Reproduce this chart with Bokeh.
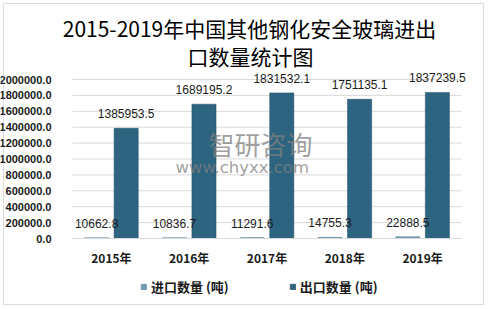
from bokeh.plotting import figure
from bokeh.models import (ColumnDataSource, Range1d, LabelSet, Label, BoxAnnotation,
                          Legend, LegendItem, NumeralTickFormatter, FixedTicker)
from bokeh.transform import dodge
from bokeh.core.properties import value
from bokeh.embed import file_html
from bokeh.resources import INLINE

years = ["2015年", "2016年", "2017年", "2018年", "2019年"]
imports = [10662.8, 10836.7, 11291.6, 14755.3, 22888.5]
exports = [1385953.5, 1689195.2, 1831532.1, 1751135.1, 1837239.5]
y_ticks = [0, 200000, 400000, 600000, 800000, 1000000, 1200000, 1400000, 1600000, 1800000, 2000000]
title_line1 = "2015-2019年中国其他钢化安全玻璃进出"
title_line2 = "口数量统计图"
series_names = ["进口数量 (吨)", "出口数量 (吨)"]

xi = list(range(len(years)))
src = ColumnDataSource(dict(
    xi=xi, imports=imports, exports=exports,
    imp_lbl=["%.1f" % v for v in imports],
    exp_lbl=["%.1f" % v for v in exports],
))
grid_src = ColumnDataSource(dict(y=y_ticks, x0=[-0.5] * len(y_ticks), x1=[len(years) - 0.5] * len(y_ticks)))

W, H = 488, 309
# plot area in pixels: x 72..461, y(0)=238, y(2e6)=79
px_left, px_right = 72.0, 461.0
cat_w = (px_right - px_left) / len(years)
y0_px, ytop_px = 238.0, 79.0
upp = 2000000.0 / (y0_px - ytop_px)
x_start = -0.5 - px_left / cat_w
x_end = -0.5 + (W - px_left) / cat_w
y_start = -(H - y0_px) * upp
y_end = y0_px * upp

p = figure(width=W, height=H, x_range=Range1d(x_start, x_end), y_range=Range1d(y_start, y_end),
           output_backend="svg", toolbar_location=None, title_location=None,
           min_border_left=0, min_border_right=0, min_border_top=0, min_border_bottom=0)
p.outline_line_color = None
p.background_fill_color = "white"
p.border_fill_color = "white"
p.xgrid.visible = False
p.ygrid.visible = False

# grid lines at the y ticks, across the category span
p.segment(x0="x0", x1="x1", y0="y", y1="y", source=grid_src, line_color="#d9d9d9", line_width=1)

imp_color = "#6f9ab2"
exp_color = "#2d6480"

r_imp = p.vbar(x=dodge("xi", -0.19), top="imports", width=0.31, source=src,
               fill_color=imp_color, line_color="#5a869e", line_width=0.5)
r_exp = p.vbar(x=dodge("xi", 0.19), top="exports", width=0.31, source=src,
               fill_color=exp_color, line_color="#1f4d64", line_width=0.5)

# axes
p.yaxis.fixed_location = -0.5
p.yaxis.ticker = FixedTicker(ticks=y_ticks)
p.yaxis.formatter = NumeralTickFormatter(format="0.0")
p.yaxis.axis_line_color = None
p.yaxis.major_tick_line_color = None
p.yaxis.minor_tick_line_color = None
p.yaxis.major_label_standoff = 15
p.yaxis.major_label_text_font = "Liberation Sans"
p.yaxis.major_label_text_font_style = "bold"
p.yaxis.major_label_text_font_size = "11px"
p.yaxis.major_label_text_color = "#1a1a1a"

p.xaxis.fixed_location = 0
p.xaxis.bounds = (-0.5, len(years) - 0.5)
p.xaxis.ticker = FixedTicker(ticks=xi)
p.xaxis.major_label_overrides = {i: y for i, y in zip(xi, years)}
p.xaxis.axis_line_color = "#d9d9d9"
p.xaxis.major_tick_line_color = None
p.xaxis.minor_tick_line_color = None
p.xaxis.major_label_standoff = 4
p.xaxis.major_label_text_font = "Noto Sans CJK SC"
p.xaxis.major_label_text_font_style = "bold"
p.xaxis.major_label_text_font_size = "12px"
p.xaxis.major_label_text_color = "#1a1a1a"

# value labels
for col, lbl, off in (("imports", "imp_lbl", -0.19), ("exports", "exp_lbl", 0.19)):
    p.add_layout(LabelSet(x=dodge("xi", off), y=col, text=lbl, source=src,
                          text_align="center", text_baseline="bottom", y_offset=10,
                          text_font=value("Liberation Sans"), text_font_size="12px",
                          text_color="#1a1a1a"))

# watermark
p.add_layout(Label(x=208, y=H - 143, x_units="screen", y_units="screen",
                   text="智研咨询", text_font="Noto Sans CJK SC", text_font_size="26px",
                   text_color="#7f7f7f", text_alpha=0.75, text_baseline="middle", text_align="left"))
p.add_layout(Label(x=175, y=H - 167, x_units="screen", y_units="screen",
                   text="www.chyxx.com", text_font="DejaVu Sans", text_font_size="16.5px",
                   text_color="#7f7f7f", text_alpha=0.75, text_baseline="middle", text_align="left"))

# title
p.add_layout(Label(x=249, y=H - 27, x_units="screen", y_units="screen",
                   text=title_line1, text_font="Noto Sans CJK SC", text_font_size="21px",
                   text_color="#000000", text_baseline="middle", text_align="center"))
p.add_layout(Label(x=250, y=H - 55, x_units="screen", y_units="screen",
                   text=title_line2, text_font="Noto Sans CJK SC", text_font_size="21px",
                   text_color="#000000", text_baseline="middle", text_align="center"))

# legend
legend = Legend(items=[LegendItem(label=series_names[0], renderers=[r_imp]),
                       LegendItem(label=series_names[1], renderers=[r_exp])],
                orientation="horizontal", location=(140, H - 296),
                padding=0, margin=0, spacing=60, glyph_width=7, glyph_height=7, label_standoff=4,
                border_line_color=None, background_fill_alpha=0,
                label_text_font="Noto Sans CJK SC", label_text_font_style="bold",
                label_text_font_size="13px", label_text_color="#1a1a1a")
p.add_layout(legend, "center")

# outer border
p.add_layout(BoxAnnotation(left=3, right=483, top=H - 3, bottom=H - 304,
                           left_units="screen", right_units="screen", top_units="screen",
                           bottom_units="screen", fill_alpha=0, line_color="#8c8c8c", line_width=1,
                           editable=False))

open("out.html", "w").write(file_html(p, INLINE))
